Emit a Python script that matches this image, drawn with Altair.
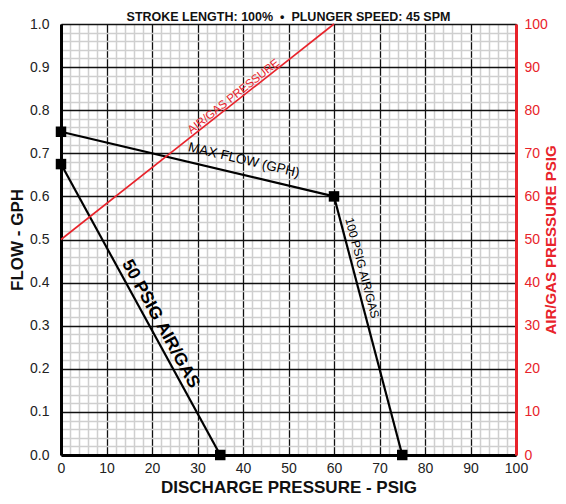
import altair as alt
import pandas as pd

# ---- data ----
series_names = ["MAX FLOW", "50 PSIG", "100 PSIG"]
max_flow_x = [0, 60]
max_flow_y = [0.75, 0.60]
psig50_x = [0, 35]
psig50_y = [0.675, 0.0]
psig100_x = [60, 75]
psig100_y = [0.60, 0.0]

air_x = [0, 60]
air_p = [50, 100]

x_grid = list(range(0, 101, 2))
y_grid = [round(i * 0.02, 2) for i in range(51)]
right_ticks = list(range(0, 101, 10))

label_text = ["AIR/GAS PRESSURE", "MAX FLOW (GPH)", "50 PSIG AIR/GAS", "100 PSIG AIR/GAS"]
label_x = [38.0, 40.2, 21.9, 66.2]
label_y = [0.831, 0.684, 0.304, 0.434]

# ---- tables ----
rows = []
for name, xs, ys in zip(series_names, [max_flow_x, psig50_x, psig100_x], [max_flow_y, psig50_y, psig100_y]):
    for x, y in zip(xs, ys):
        rows.append({"series": name, "x": x, "y": y})
lines_df = pd.DataFrame(rows)
points_df = lines_df.drop_duplicates(subset=["x", "y"])
air_df = pd.DataFrame({"x": air_x, "p": air_p})
labels_df = pd.DataFrame({"text": label_text, "x": label_x, "y": label_y})

FONT = "Liberation Sans"
RED = "#e8232b"
W, H = 455, 431

x_axis = alt.Axis(
    values=x_grid,
    title="DISCHARGE PRESSURE - PSIG",
    labelExpr="datum.value % 10 === 0 ? datum.label : ''",
    labelFlush=False,
    labelOverlap=False,
    grid=True,
    gridColor={"condition": {"test": "datum.value % 10 === 0", "value": "#111111"}, "value": "#cfcfcf"},
    gridWidth={"condition": {"test": "datum.value % 10 === 0", "value": 1.3}, "value": 1.5},
    ticks=False,
    domainColor="black",
    domainWidth=3,
    labelFont=FONT,
    labelFontSize=14,
    labelColor="#222222",
    labelPadding=6,
    titleFont=FONT,
    titleFontSize=17,
    titleFontWeight="bold",
    titleColor="#111111",
    titlePadding=4,
)
y_axis = alt.Axis(
    values=y_grid,
    title="FLOW - GPH",
    labelExpr="round(datum.value * 50) % 5 === 0 ? format(datum.value, '.1f') : ''",
    labelFlush=False,
    labelOverlap=False,
    grid=True,
    gridColor={"condition": {"test": "round(datum.value * 50) % 5 === 0", "value": "#111111"}, "value": "#cfcfcf"},
    gridWidth={"condition": {"test": "round(datum.value * 50) % 5 === 0", "value": 1.3}, "value": 1.5},
    ticks=False,
    domainColor="black",
    domainWidth=3,
    labelFont=FONT,
    labelFontSize=14,
    labelColor="#222222",
    labelPadding=12,
    titleFont=FONT,
    titleFontSize=17,
    titleFontWeight="bold",
    titleColor="#111111",
    titlePadding=3,
)
right_axis = alt.Axis(
    values=right_ticks,
    orient="right",
    title="AIR/GAS PRESSURE PSIG",
    titleAngle=270,
    titleBaseline="top",
    labelFlush=False,
    grid=False,
    ticks=False,
    domainColor=RED,
    domainWidth=3,
    labelFont=FONT,
    labelFontSize=14,
    labelColor=RED,
    labelPadding=8,
    titleFont=FONT,
    titleFontSize=15,
    titleFontWeight="bold",
    titleColor=RED,
    titlePadding=-4,
    zindex=2,
)

xs = alt.Scale(domain=[0, 100], nice=False, zero=False)
ys = alt.Scale(domain=[0, 1], nice=False)

X = alt.X("x:Q", scale=xs, axis=x_axis)
Y = alt.Y("y:Q", scale=ys, axis=y_axis)

lines = alt.Chart(lines_df).mark_line(color="black", strokeWidth=2.2).encode(
    x=X, y=Y, detail="series:N"
)
points = alt.Chart(points_df).mark_point(
    shape="square", filled=True, color="black", size=110, opacity=1
).encode(x=X, y=Y)

def label(i, angle, size, weight, color):
    return alt.Chart(labels_df.iloc[[i]]).mark_text(
        angle=angle, fontSize=size, fontWeight=weight, font=FONT, color=color,
        align="center", baseline="middle"
    ).encode(x=X, y=Y, text="text:N")

texts = [
    label(0, 321.7, 11.5, "normal", RED),
    label(1, 13.3, 13.5, "normal", "black"),
    label(2, 61.3, 17.5, "bold", "black"),
    label(3, 75.2, 12, "normal", "black"),
]

inner = alt.layer(lines, points, *texts)

air = alt.Chart(air_df).mark_line(color=RED, strokeWidth=1.6).encode(
    x=X,
    y=alt.Y("p:Q", scale=alt.Scale(domain=[0, 100], nice=False), axis=right_axis),
)

chart = alt.layer(inner, air).resolve_scale(y="independent").properties(
    width=W,
    height=H,
    padding={"left": 53, "top": 16, "right": 42, "bottom": 41},
    autosize=alt.AutoSizeParams(type="none"),
    title=alt.Title(
        "STROKE LENGTH: 100% \u00a0\u2022\u00a0 PLUNGER SPEED: 45 SPM",
        font=FONT, fontSize=12.5, fontWeight="bold", color="#111111", offset=-6,
    ),
).configure_view(stroke="black", strokeWidth=3).configure(background="white")

chart.save("out.html", embed_options={"renderer": "svg", "actions": False})
